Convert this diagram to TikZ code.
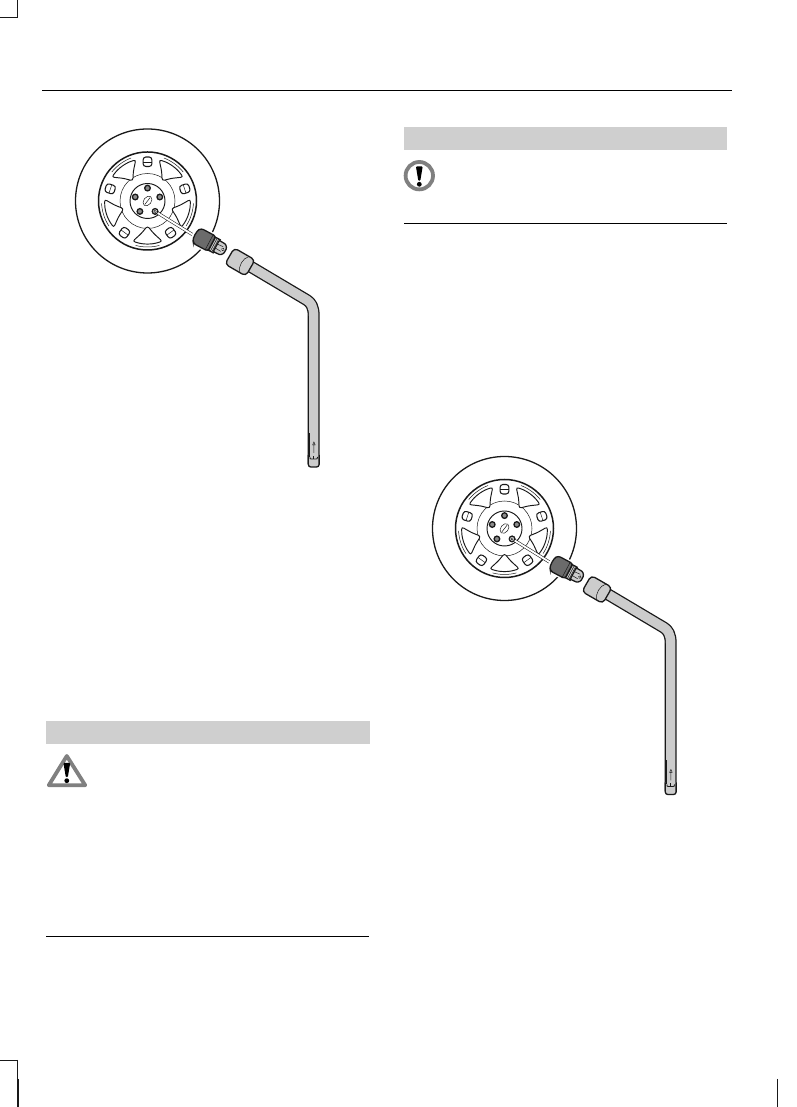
\documentclass[tikz,border=0pt]{standalone}
\usetikzlibrary{calc}
\definecolor{band}{gray}{0.81}
\definecolor{sockdark}{gray}{0.42}
\definecolor{barfill}{gray}{0.80}
\definecolor{boltfill}{gray}{0.55}
\definecolor{signgrey}{gray}{0.50}
\definecolor{ink}{gray}{0.1}
\tikzset{
  heavy/.style={draw=ink,line width=1.3pt},
  fine/.style={draw=ink,line width=0.5pt},
  medium/.style={draw=ink,line width=0.95pt},
  rulebar/.style={draw=black,line width=1pt},
  crop/.style={draw=ink,line width=1.4pt},
  thincrop/.style={draw=ink,line width=0.7pt},
  bandbox/.style={fill=band,draw=none},
}
\newcommand{\tyrefigure}{%
  % tyre and rim
  \draw[heavy,fill=white] (147.5,906) circle (72);
  \begin{scope}[shift={(147.5,906)}]
    \draw[draw=ink,line width=1.5pt] (0,0) circle (49);
    \draw[fine] (0,0) circle (27.5);
    \draw[medium,fill=white] (0,0) circle (17.5);
    \foreach \a in {54,-18,-90,-162,126}{
      \begin{scope}[rotate=\a]
        \draw[medium,fill=white,rounded corners=2.4pt]
          (25,0) -- (32.5,-6.2) -- (40.3,-14.8)
          -- (42.6,-7) -- (43.2,0) -- (42.6,7) -- (40.3,14.8)
          -- (32.5,6.2) -- cycle;
        \draw[fine] (-15:46) arc (-15:15:46);
      \end{scope}
    }
    \foreach \a in {90,18,-54,-126,162}{
      \begin{scope}[rotate=\a]
        \draw[draw=ink,line width=1.05pt,fill=white,rounded corners=2.8pt]
          (34.5,-4.4) rectangle (44,4.4);
        \draw[fine] (39,-4.4) -- (39,4.4);
      \end{scope}
      \draw[heavy,fill=boltfill] (\a:12.9) circle (2.8);
    }
    \draw[fine,rotate=52] (0,0) ellipse (5.4 and 3.8);
    \draw[fine] (52:-4.4) -- (52:4.4);
  \end{scope}
  % guide line from wheel nut to socket
  \coordinate (guideA) at ($(147.5,906)+(-54:12.9)$);
  \coordinate (guideB) at (198,869);
  \draw[draw=ink,line width=3pt] (guideA) -- (guideB);
  \draw[draw=white,line width=1.9pt] (guideA) -- (guideB);
  \draw[medium,fill=white] (guideA) circle (2.6);
  \draw[fine] (guideA) circle (1.2);
  % wheel-nut socket
  \begin{scope}[shift={(195.5,872)},rotate=-28]
    \fill[white] (-3,-10.5) rectangle (35,10.5);
    \draw[heavy,fill=barfill] (17,-7.4) rectangle (24,7.4);
    \draw[fine] (19,-7.4) -- (19,7.4) (20.7,-7.4) -- (20.7,7.4) (22.4,-7.4) -- (22.4,7.4);
    \draw[heavy,fill=sockdark,rounded corners=2.5pt] (2,-8.5) -- (18.5,-8.5) -- (18.5,8.5) -- (2,8.5)
      .. controls (-1,4) and (-1,-4) .. (2,-8.5) -- cycle;
    \draw[fine] (15.5,-8.5) -- (15.5,8.5);
    \draw[heavy,fill=barfill,rounded corners=1pt] (23.5,-6.4) -- (31,-6) -- (33.7,-3) -- (33.7,3) -- (31,6) -- (23.5,6.4) -- cycle;
    \draw[fine] (23.5,-2.2) -- (30,-2.6) (23.5,2.2) -- (30,2.6);
    \draw[fine,fill=white] (31,0) circle (1.3);
  \end{scope}
  % wrench bar
  \path (247,842.5) coordinate (barA) (306.7,807) coordinate (barB)
        (313.7,791) coordinate (barC) (313.7,643) coordinate (barD);
  \draw[draw=ink,line width=12pt,line join=round] (barA) -- (barB)
     .. controls (311,804.5) and (313.7,800) .. (barC) -- (barD);
  \draw[draw=barfill,line width=9.4pt,line join=round] (barA) -- (barB)
     .. controls (311,804.5) and (313.7,800) .. (barC) -- (barD);
  % bar tip
  \draw[heavy,fill=barfill,rounded corners=2.5pt] (308.3,652) -- (308.3,640) -- (319.1,640) -- (319.1,652);
  \fill[barfill] (308.95,648) rectangle (318.45,655);
  \draw[fine] (309.7,650) -- (309.7,674);
  \draw[fine] (313.9,654) -- (313.9,662) (312.6,662) -- (313.9,665) -- (315.2,662) -- cycle;
  \draw[draw=ink,line width=0.8pt] (309.9,650) .. controls (310,648) .. (311.5,648) -- (316,648) .. controls (317.3,648) .. (317.5,650);
  \draw[fine] (313.5,648) -- (313.5,651);
  % wrench socket
  \begin{scope}[shift={(229.6,851)},rotate=-30]
    \draw[heavy,fill=barfill,rounded corners=4pt] (0,-9.3) -- (24,-9.3) -- (24,9.3) -- (0,9.3) -- cycle;
    \draw[fine] (17,9.1) .. controls (12.5,5) and (12.5,-5) .. (17,-9.1);
  \end{scope}
}
\begin{document}
\begin{tikzpicture}[x=1pt,y=1pt]
  \useasboundingbox (0,0) rectangle (796,1107);
  \fill[white] (0,0) rectangle (796,1107);
  % crop marks
  \draw[crop] (0,1089.7) -- (17.7,1089.7);
  \draw[draw=ink,line width=1pt] (17.7,1089) -- (17.7,1107);
  \draw[crop] (0,46.5) -- (18,46.5);
  \draw[thincrop] (17.7,47) -- (17.7,28);
  \draw[crop] (18,28) -- (18,0);
  \draw[crop] (777.7,28) -- (777.7,0);
  % header rule
  \draw[rulebar] (42,1016.5) -- (732,1016.5);
  % bands
  \fill[bandbox] (404,957) rectangle (727,980);
  \fill[bandbox] (46,363) rectangle (370,386);
  % section rules
  \draw[rulebar] (404,883.5) -- (727,883.5);
  \draw[rulebar] (46,170.5) -- (369,170.5);
  % first figure
  \tyrefigure
  % second figure
  \begin{scope}[shift={(357,-327.5)}]
    \tyrefigure
  \end{scope}
  % warning triangle
  \draw[draw=signgrey,line width=3.8pt,line join=round] (66.8,351) -- (48.8,321.8) -- (85.2,321.8) -- cycle;
  \fill[black,rounded corners=1pt] (63.4,344.2) -- (70.2,344.2) -- (67.8,329.8) -- (65.8,329.8) -- cycle;
  \fill[black] (66.8,326.3) circle (2.4);
  % caution circle
  \draw[draw=signgrey,line width=3.8pt] (419.3,931.3) circle (13.7);
  \fill[black,rounded corners=1pt] (415.9,940.6) -- (422.7,940.6) -- (420.3,926.2) -- (418.3,926.2) -- cycle;
  \fill[black] (419.3,922.7) circle (2.4);
\end{tikzpicture}
\end{document}
